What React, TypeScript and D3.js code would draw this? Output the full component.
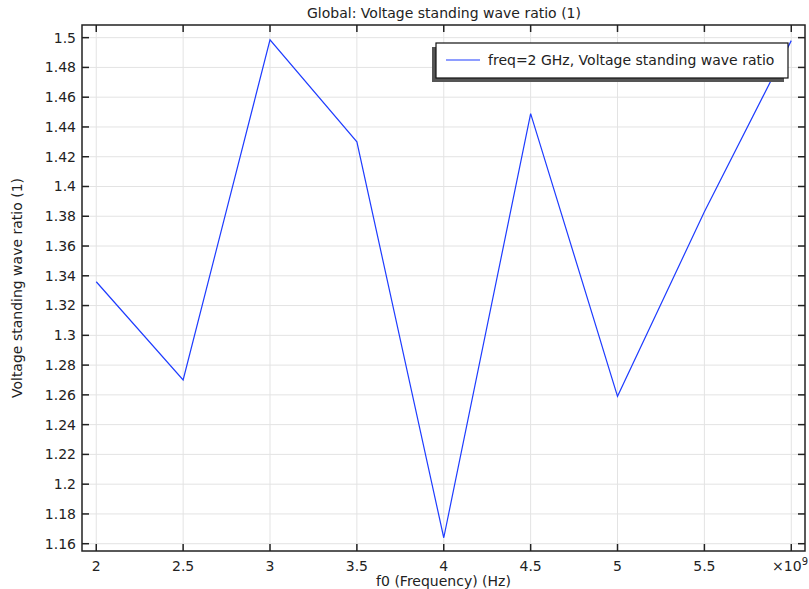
import React from "react";
import * as d3 from "d3";

const freqs = [2, 2.5, 3, 3.5, 4, 4.5, 5, 5.5, 6];
const vswr = [1.336, 1.270, 1.4985, 1.430, 1.164, 1.449, 1.259, 1.383, 1.498];
const xTicks = [2, 2.5, 3, 3.5, 4, 4.5, 5, 5.5, 6];
const xTickLabels = ["2", "2.5", "3", "3.5", "4", "4.5", "5", "5.5", ""];
const yTicks = [1.16, 1.18, 1.2, 1.22, 1.24, 1.26, 1.28, 1.3, 1.32, 1.34, 1.36, 1.38, 1.4, 1.42, 1.44, 1.46, 1.48, 1.5];
const title = "Global: Voltage standing wave ratio (1)";
const xLabel = "f0 (Frequency) (Hz)";
const yLabel = "Voltage standing wave ratio (1)";
const legendLabel = "freq=2 GHz, Voltage standing wave ratio";

export default function App() {
  const W = 809, H = 589;
  const L = 82, R = 805, T = 25, B = 551;
  const x = d3.scaleLinear().domain([1.918, 6.079]).range([L, R]);
  const y = d3.scaleLinear().domain([1.1551, 1.5085]).range([B, T]);
  const line = d3.line<number>().x((_, i) => x(freqs[i])).y((d) => y(d));
  const font = "DejaVu Sans, sans-serif";
  const tl = 7;
  const fs = 14;
  return (
    <svg width={W} height={H} style={{ position: "absolute", left: 0, top: 0, background: "#fff" }} fontFamily={font}>
      <rect x={0} y={0} width={W} height={H} fill="#fff" />
      {xTicks.map((t) => (
        <line key={"gx" + t} x1={x(t)} x2={x(t)} y1={T} y2={B} stroke="#e3e3e3" strokeWidth={1} />
      ))}
      {yTicks.map((t) => (
        <line key={"gy" + t} x1={L} x2={R} y1={y(t)} y2={y(t)} stroke="#e3e3e3" strokeWidth={1} />
      ))}
      <path d={line(vswr) || ""} fill="none" stroke="#1e3cff" strokeWidth={1.2} />
      {xTicks.map((t) => (
        <g key={"tx" + t}>
          <line x1={x(t)} x2={x(t)} y1={B} y2={B - tl} stroke="#222" strokeWidth={1.5} />
          <line x1={x(t)} x2={x(t)} y1={T} y2={T + tl} stroke="#222" strokeWidth={1.5} />
        </g>
      ))}
      {yTicks.map((t) => (
        <g key={"ty" + t}>
          <line x1={L} x2={L + tl} y1={y(t)} y2={y(t)} stroke="#222" strokeWidth={1.5} />
          <line x1={R} x2={R - tl} y1={y(t)} y2={y(t)} stroke="#222" strokeWidth={1.5} />
        </g>
      ))}
      <rect x={L} y={T} width={R - L} height={B - T} fill="none" stroke="#222" strokeWidth={1.5} />
      {xTicks.map((t, i) => (
        <text key={"lx" + t} x={x(t)} y={B + 20} textAnchor="middle" fontSize={fs} fill="#222">{xTickLabels[i]}</text>
      ))}
      <text x={808} y={B + 20} textAnchor="end" fontSize={fs} fill="#222">
        ×10<tspan dy={-6} fontSize={10}>9</tspan>
      </text>
      {yTicks.map((t) => (
        <text key={"ly" + t} x={L - 6} y={y(t)} dy="0.35em" textAnchor="end" fontSize={fs} fill="#222">{String(t)}</text>
      ))}
      <text x={(L + R) / 2 + 0.5} y={18} textAnchor="middle" fontSize={fs} fill="#222">{title}</text>
      <text x={(L + R) / 2} y={586} textAnchor="middle" fontSize={fs} fill="#222">{xLabel}</text>
      <text transform={`translate(22,${(T + B) / 2}) rotate(-90)`} textAnchor="middle" fontSize={fs} fill="#222">{yLabel}</text>
      <g>
        <rect x={432} y={47} width={352} height={35} fill="#555" />
        <rect x={436} y={43} width={352} height={35} fill="#fff" stroke="#111" strokeWidth={1.2} />
        <line x1={446} x2={480} y1={60} y2={60} stroke="#1e3cff" strokeWidth={1.2} />
        <text x={488} y={60} dy="0.35em" fontSize={fs} fill="#222">{legendLabel}</text>
      </g>
    </svg>
  );
}
